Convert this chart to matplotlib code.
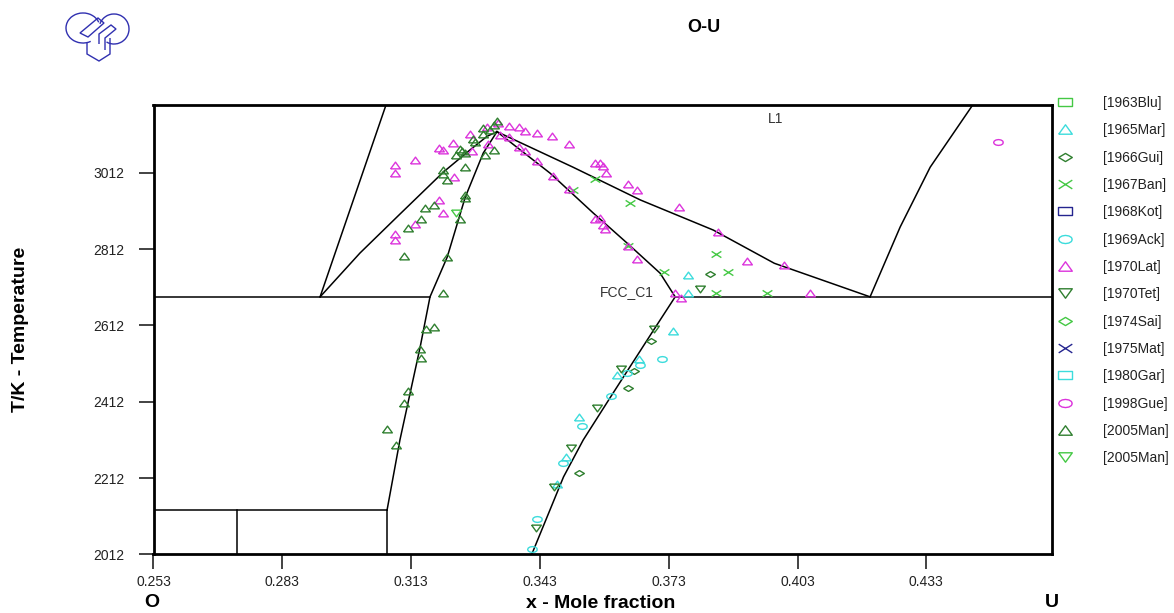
import matplotlib
matplotlib.use("Agg")
import matplotlib.pyplot as plt
import numpy as np
from matplotlib.path import Path
from matplotlib.patches import Arc, Polygon

plt.rcParams['font.family'] = ['Liberation Sans', 'DejaVu Sans']

# axis ticks
x_ticks = [0.253, 0.283, 0.313, 0.343, 0.373, 0.403, 0.433]
t_ticks = [2012, 2212, 2412, 2612, 2812, 3012]

# calculated phase boundaries (x, T)
gas_l_x = [0.2918, 0.3073]
gas_l_t = [2687, 3195]
liq_left_x = [0.2918, 0.3011, 0.3104, 0.3205, 0.3267, 0.3307, 0.3330]
liq_left_t = [2687, 2802, 2904, 3014, 3072, 3108, 3120]
sol_left_x = [0.3074, 0.3104, 0.3151, 0.3174, 0.3214, 0.3256, 0.3298, 0.3330]
sol_left_t = [2128, 2312, 2555, 2687, 2791, 2948, 3064, 3120]
sol_right_x = [0.3330, 0.3454, 0.3554, 0.3633, 0.3710, 0.3745]
sol_right_t = [3120, 3011, 2907, 2828, 2749, 2687]
low_right_x = [0.3745, 0.3696, 0.3596, 0.3531, 0.3485, 0.3411]
low_right_t = [2687, 2602, 2427, 2312, 2215, 2012]
liq_right_x = [0.3330, 0.3507, 0.3664, 0.3834, 0.3976, 0.4199]
liq_right_t = [3120, 3027, 2941, 2862, 2775, 2687]
l_gas_right_x = [0.4199, 0.4269, 0.4339, 0.4441]
l_gas_right_t = [2687, 2870, 3027, 3195]
eut_left_x = [0.253, 0.3174]
eut_left_t = [2687, 2687]
eut_right_x = [0.3745, 0.4622]
eut_right_t = [2687, 2687]
low_h_x = [0.253, 0.3074]
low_h_t = [2128, 2128]
v1_x = [0.3074, 0.3074]
v1_t = [2128, 2012]
v2_x = [0.2725, 0.2725]
v2_t = [2128, 2012]

# experimental data
lat_x = [0.3093, 0.3093, 0.3138, 0.3194, 0.3205, 0.3227, 0.3229, 0.3267, 0.3271,
         0.3194, 0.3205, 0.3139, 0.3093, 0.3093, 0.3306, 0.3310, 0.3333, 0.3357,
         0.3337, 0.3357, 0.3382, 0.3396, 0.3382, 0.3396, 0.3424, 0.3459, 0.3497,
         0.3424, 0.3460, 0.3497, 0.3559, 0.3570, 0.3578, 0.3584, 0.3559, 0.3569,
         0.3578, 0.3582, 0.3634, 0.3656, 0.3634, 0.3656, 0.3755, 0.3845, 0.3912,
         0.3999, 0.3745, 0.3758, 0.4058]
lat_t = [3032, 3012, 3045, 3078, 3072, 3091, 3002, 3113, 3070,
         2941, 2908, 2878, 2851, 2836, 3133, 3089, 3142, 3135,
         3111, 3107, 3133, 3121, 3080, 3069, 3117, 3108, 3087,
         3043, 3004, 2971, 3037, 3037, 3030, 3012, 2890, 2895,
         2875, 2864, 2983, 2967, 2820, 2786, 2923, 2858, 2782,
         2770, 2696, 2683, 2698]
man_up_x = [0.3330, 0.3322, 0.3298, 0.3298, 0.3314, 0.3275, 0.3279, 0.3244, 0.3256,
            0.3235, 0.3248, 0.3322, 0.3302, 0.3256, 0.3205, 0.3205, 0.3213, 0.3256,
            0.3256, 0.3163, 0.3184, 0.3153, 0.3122, 0.3244, 0.3114, 0.3213, 0.3205,
            0.3164, 0.3184, 0.3151, 0.3153, 0.3122, 0.3114, 0.3075, 0.3094]
man_up_t = [3148, 3137, 3129, 3115, 3124, 3100, 3093, 3074, 3063,
            3059, 3070, 3072, 3059, 3028, 3019, 3009, 2993, 2954,
            2947, 2919, 2928, 2891, 2868, 2890, 2795, 2792, 2698,
            2604, 2607, 2549, 2527, 2440, 2409, 2340, 2298]
man_dn_x = [0.3234]
man_dn_t = [2906]
tet_x = [0.3696, 0.3619, 0.3563, 0.3503, 0.3462, 0.3421, 0.3803]
tet_t = [2602, 2497, 2395, 2291, 2189, 2080, 2707]
gui_x = [0.3689, 0.3650, 0.3634, 0.3521, 0.3825]
gui_t = [2571, 2493, 2447, 2226, 2746]
mar_x = [0.3740, 0.3660, 0.3609, 0.3520, 0.3491, 0.3470, 0.3776, 0.3776]
mar_t = [2598, 2524, 2482, 2373, 2268, 2196, 2744, 2698]
ack_x = [0.3714, 0.3662, 0.3633, 0.3596, 0.3529, 0.3483, 0.3423, 0.3411]
ack_t = [2523, 2508, 2488, 2427, 2349, 2252, 2104, 2025]
ban_x = [0.3559, 0.3508, 0.3639, 0.3634, 0.3718, 0.3841, 0.3869, 0.3841, 0.3959]
ban_t = [2995, 2967, 2932, 2820, 2753, 2799, 2753, 2696, 2696]
gue_x = [0.4498]
gue_t = [3093]
empty = []

lgreen = '#44c844'
cyan = '#3cdcdc'
dgreen = '#2f7f2f'
magenta = '#dc34dc'
dblue = '#24248f'

# marker shapes
m_rect = [(-1.5, -0.9), (1.5, -0.9), (1.5, 0.9), (-1.5, 0.9), (-1.5, -0.9)]
m_diam = [(-1.5, 0), (0, 0.9), (1.5, 0), (0, -0.9), (-1.5, 0)]
ang = np.linspace(0, 2 * np.pi, 13)
m_ell = list(zip(1.5 * np.cos(ang), 0.9 * np.sin(ang)))
m_up = [(-1.3, -0.9), (1.3, -0.9), (0, 0.9), (-1.3, -0.9)]
m_dn = [(-1.3, 0.9), (1.3, 0.9), (0, -0.9), (-1.3, 0.9)]
m_x = Path([(-1.4, -0.9), (1.4, 0.9), (-1.4, 0.9), (1.4, -0.9)],
           [Path.MOVETO, Path.LINETO, Path.MOVETO, Path.LINETO])

series = [
    ('[1963Blu]', empty, empty, m_rect, lgreen),
    ('[1965Mar]', mar_x, mar_t, m_up, cyan),
    ('[1966Gui]', gui_x, gui_t, m_diam, dgreen),
    ('[1967Ban]', ban_x, ban_t, m_x, lgreen),
    ('[1968Kot]', empty, empty, m_rect, dblue),
    ('[1969Ack]', ack_x, ack_t, m_ell, cyan),
    ('[1970Lat]', lat_x, lat_t, m_up, magenta),
    ('[1970Tet]', tet_x, tet_t, m_dn, dgreen),
    ('[1974Sai]', empty, empty, m_diam, lgreen),
    ('[1975Mat]', empty, empty, m_x, dblue),
    ('[1980Gar]', empty, empty, m_rect, cyan),
    ('[1998Gue]', gue_x, gue_t, m_ell, magenta),
    ('[2005Man]', man_up_x, man_up_t, m_up, dgreen),
    ('[2005Man]', man_dn_x, man_dn_t, m_dn, lgreen),
]

fig = plt.figure(figsize=(11.74, 6.13), dpi=100)
ax = fig.add_axes([153.5 / 1174, 1 - 554.3 / 613, 898.2 / 1174, 449.3 / 613])

lines = [(gas_l_x, gas_l_t), (liq_left_x, liq_left_t), (sol_left_x, sol_left_t),
         (sol_right_x, sol_right_t), (low_right_x, low_right_t),
         (liq_right_x, liq_right_t), (l_gas_right_x, l_gas_right_t),
         (eut_left_x, eut_left_t), (eut_right_x, eut_right_t),
         (low_h_x, low_h_t), (v1_x, v1_t), (v2_x, v2_t)]
for lx, lt in lines:
    ax.plot(lx, lt, color='black', lw=1.1)

for label, sx, st, mk, col in series:
    ax.plot(sx, st, linestyle='none', marker=mk, markersize=7, markerfacecolor='none',
            markeredgecolor=col, markeredgewidth=1.0, label=label)

ax.text(0.3962, 3153, 'L1', fontsize=10, color='#333333', va='center', ha='left')
ax.text(0.3570, 2699, 'FCC_C1', fontsize=10, color='#333333', va='center', ha='left')

ax.set_xlim(0.253, 0.4622)
ax.set_ylim(2012, 3190)
ax.set_xticks(x_ticks)
ax.set_xticklabels([f'{v:.3f}' for v in x_ticks])
ax.set_yticks(t_ticks)
ax.set_yticklabels([str(v) for v in t_ticks])
ax.tick_params(axis='both', direction='out', length=11, width=1.2, labelsize=10,
               colors='#222222')
ax.tick_params(axis='x', pad=4)
ax.tick_params(axis='y', pad=10)
for sp in ax.spines.values():
    sp.set_linewidth(2)

leg = ax.legend(loc='upper left', bbox_to_anchor=(1051 / 1174, 1 - 96 / 613),
                bbox_transform=fig.transFigure, frameon=False, fontsize=10,
                borderpad=0, borderaxespad=0, handlelength=2.0, handletextpad=1.75,
                labelspacing=0.96, markerscale=1.4)
for t in leg.get_texts():
    t.set_color('#222222')

fig.text(704 / 1174, 1 - 27 / 613, 'O-U', fontsize=13, fontweight='bold', ha='center', va='center')
fig.text(601 / 1174, 1 - 603 / 613, 'x - Mole fraction', fontsize=14, fontweight='bold',
         ha='center', va='center')
fig.text(21 / 1174, 1 - 329.5 / 613, 'T/K - Temperature', fontsize=14, fontweight='bold',
         ha='center', va='center', rotation=90)
fig.text(152 / 1174, 1 - 611 / 613, 'O', fontsize=14, fontweight='bold', ha='center', va='bottom')
fig.text(1052 / 1174, 1 - 611 / 613, 'U', fontsize=14, fontweight='bold', ha='center', va='bottom')

# logo
lax = fig.add_axes([55 / 1174, 1 - 70 / 613, 90 / 1174, 70 / 613])
lax.set_xlim(55, 145)
lax.set_ylim(70, 0)
lax.axis('off')
lc = '#3030b0'
lax.add_patch(Arc((83, 28), 34, 30, theta1=60, theta2=340, color=lc, lw=1))
lax.add_patch(Arc((114, 29), 30, 30, theta1=200, theta2=120, color=lc, lw=1))
lax.add_patch(Polygon([(87, 42), (87, 54), (99, 61), (110, 54), (110, 38)], closed=False,
                      fill=False, color=lc, lw=1))
lax.add_patch(Polygon([(80, 33), (98, 18), (104, 23), (88, 37), (80, 33)], closed=True,
                      fill=False, color=lc, lw=1))
lax.add_patch(Polygon([(99, 44), (99, 34), (111, 25), (116, 29), (105, 38), (105, 50)],
                      closed=False, fill=False, color=lc, lw=1))

fig.savefig('out.png', dpi=100)
